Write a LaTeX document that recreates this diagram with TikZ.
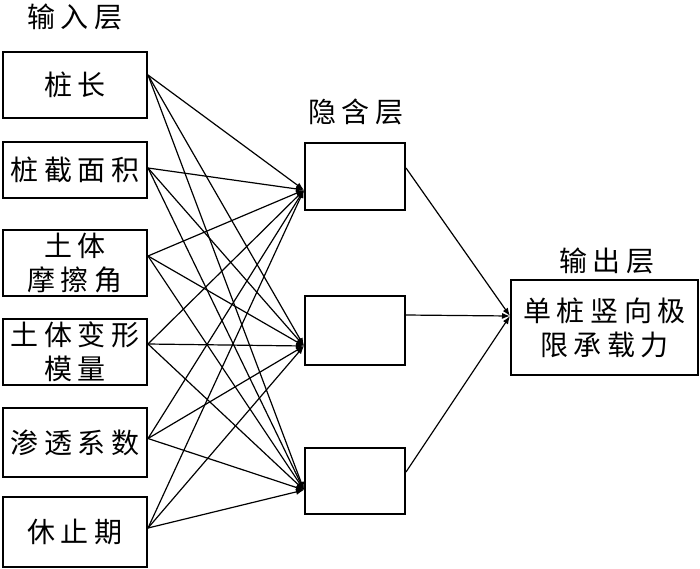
\documentclass[tikz,border=0pt]{standalone}
\usepackage{fontspec}
\newfontfamily\cjk[LetterSpace=20]{Noto Sans CJK SC}
\usetikzlibrary{arrows.meta}
\begin{document}
\begin{tikzpicture}[x=1pt,y=-1pt,
  box/.style={draw, line width=2pt, inner sep=0pt, font=\cjk\fontsize{28}{34}\selectfont, align=center},
  lbl/.style={font=\cjk\fontsize{28}{34}\selectfont, inner sep=0pt},
  link/.style={line width=1.2pt, -{Latex[length=8pt,width=6pt]}}]
\useasboundingbox (0,0) rectangle (700,568);
% input layer
\node[lbl] (tin) at (75,17) {输入层};
\node[box, minimum width=144pt, minimum height=66pt] (i1) at (75,85) {桩长};
\node[box, minimum width=144pt, minimum height=56pt] (i2) at (75,170) {桩截面积};
\node[box, minimum width=144pt, minimum height=66pt] (i3) at (75,263) {土体\\摩擦角};
\node[box, minimum width=144pt, minimum height=66pt] (i4) at (75,352) {土体变形\\模量};
\node[box, minimum width=144pt, minimum height=69pt] (i5) at (75,442.5) {渗透系数};
\node[box, minimum width=144pt, minimum height=70pt] (i6) at (75,532) {休止期};
% hidden layer
\node[lbl] (thid) at (356,112) {隐含层};
\node[box, minimum width=100pt, minimum height=67pt] (h1) at (355,176.5) {};
\node[box, minimum width=100pt, minimum height=69pt] (h2) at (355,330.5) {};
\node[box, minimum width=100pt, minimum height=66pt] (h3) at (355,481) {};
% output layer
\node[lbl] (tout) at (607,261) {输出层};
\node[box, minimum width=187pt, minimum height=95pt] (o) at (604.5,327.5) {单桩竖向极\\限承载力};
% connection points
\coordinate (s1) at ([yshift=10pt]i1.east);
\coordinate (s2) at ([yshift=2pt]i2.east);
\coordinate (s3) at ([yshift=7pt]i3.east);
\coordinate (s4) at ([yshift=8pt]i4.east);
\coordinate (s5) at ([yshift=4pt]i5.east);
\coordinate (s6) at ([yshift=4pt]i6.east);
\coordinate (t1) at ([yshift=-13.5pt]h1.west);
\coordinate (t2) at ([yshift=-15.5pt]h2.west);
\coordinate (t3) at ([yshift=-9pt]h3.west);
\coordinate (u1) at ([yshift=8.5pt]h1.east);
\coordinate (u2) at ([yshift=15.5pt]h2.east);
\coordinate (u3) at ([yshift=9pt]h3.east);
\coordinate (ot) at ([yshift=11.5pt]o.west);
\foreach \s in {s1,s2,s3,s4,s5,s6}{
  \foreach \t in {t1,t2,t3}{
    \draw[link] (\s) -- (\t);
  }
}
\foreach \u in {u1,u2,u3}{
  \draw[link] (\u) -- (ot);
}
\end{tikzpicture}
\end{document}
